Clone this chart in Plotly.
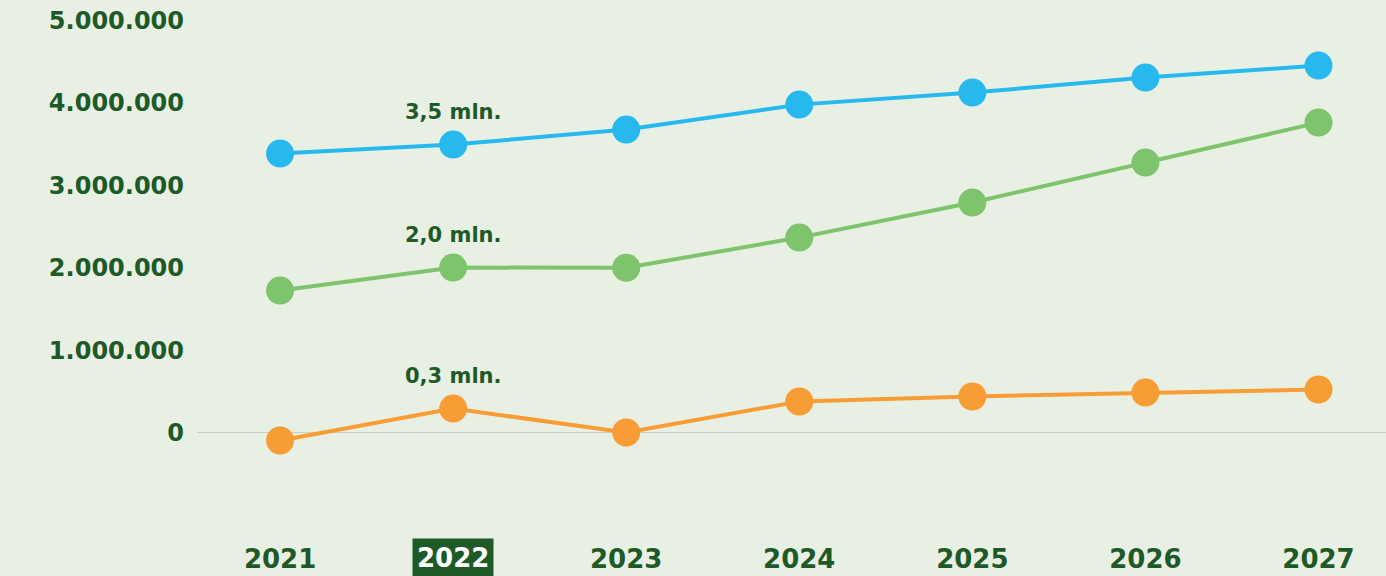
import plotly.graph_objects as go

years = ["2021", "2022", "2023", "2024", "2025", "2026", "2027"]
blue_vals = [3386000, 3495000, 3677000, 3980000, 4126000, 4308000, 4454000]
green_vals = [1723000, 2002000, 2000000, 2366000, 2791000, 3277000, 3762000]
orange_vals = [-97000, 291000, 0, 376000, 437000, 485000, 522000]
ann_texts = ["3,5 mln.", "2,0 mln.", "0,3 mln."]
highlight_year = "2022"
y_ticks = [0, 1000000, 2000000, 3000000, 4000000, 5000000]
y_tick_text = ["0", "1.000.000", "2.000.000", "3.000.000", "4.000.000", "5.000.000"]

BG = "#e8f0e3"
DARK = "#1d5a27"
FONT = "DejaVu Sans"

hi = years.index(highlight_year)

fig = go.Figure()
for vals, col in [(blue_vals, "#27b9ee"), (green_vals, "#7dc46c"), (orange_vals, "#f89c36")]:
    fig.add_trace(go.Scatter(
        x=years, y=vals, mode="lines+markers",
        line=dict(color=col, width=4),
        marker=dict(color=col, size=28),
        hoverinfo="x+y", showlegend=False,
    ))

for vals, txt in zip([blue_vals, green_vals, orange_vals], ann_texts):
    fig.add_annotation(x=hi, y=vals[hi], text=txt, showarrow=False,
                       yshift=33, font=dict(family=FONT, size=21, color=DARK, weight="bold"))

# highlighted year label
fig.add_annotation(x=hi, y=0, yref="paper", yanchor="top", text=highlight_year, showarrow=False,
                   yshift=-19, bgcolor=DARK, borderpad=4,
                   font=dict(family=FONT, size=26, color="white", weight="bold"))

fig.update_layout(
    width=1386, height=576,
    paper_bgcolor=BG, plot_bgcolor=BG,
    margin=dict(l=197, r=0, t=0, b=57),
    xaxis=dict(
        type="category", range=[-0.48, 6.39], showgrid=False, zeroline=False,
        tickmode="array", tickvals=years,
        ticktext=[y if y != highlight_year else " " for y in years],
        ticklabelstandoff=22,
        tickfont=dict(family=FONT, size=26, color=DARK, weight="bold"),
        showline=False, ticks="",
    ),
    yaxis=dict(
        range=[-1050000, 5250000], showgrid=False,
        zeroline=True, zerolinecolor="#c9cfc6", zerolinewidth=1,
        tickmode="array", tickvals=y_ticks, ticktext=y_tick_text,
        ticklabelstandoff=12,
        tickfont=dict(family=FONT, size=24, color=DARK, weight="bold"),
        showline=False, ticks="",
    ),
)

fig.write_html("out.html", config={"displayModeBar": False},
               post_script="document.body.style.margin='0';document.body.style.overflow='hidden';")
